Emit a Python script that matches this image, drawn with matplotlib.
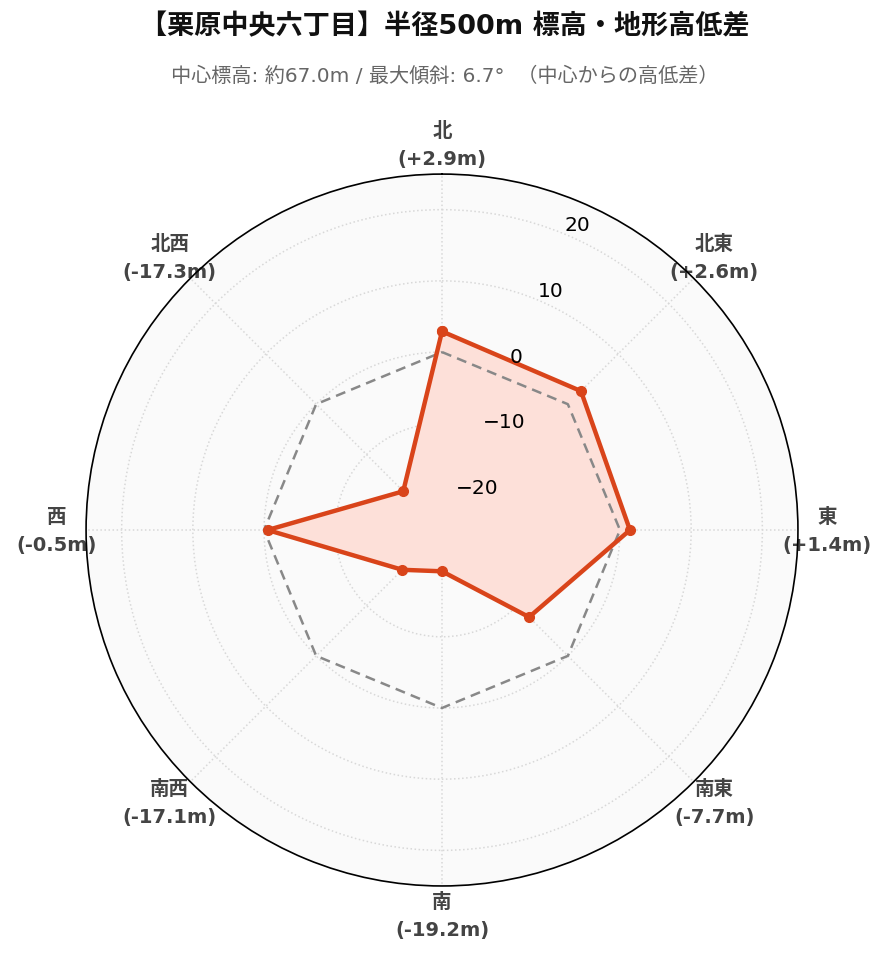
import numpy as np
import matplotlib
matplotlib.use("Agg")
import matplotlib.pyplot as plt

plt.rcParams['font.family'] = ['DejaVu Sans', 'Noto Sans CJK JP']

# data
directions = ['北', '北東', '東', '南東', '南', '南西', '西', '北西']
diffs = [2.9, 2.6, 1.4, -7.7, -19.2, -17.1, -0.5, -17.3]
ref_level = [0, 0, 0, 0, 0, 0, 0, 0]
r_ticks = [-20, -10, 0, 10, 20]
r_min, r_max = -25, 25

title = '【栗原中央六丁目】半径500m 標高・地形高低差'
subtitle = '中心標高: 約67.0m / 最大傾斜: 6.7°  （中心からの高低差）'

line_color = '#d9441a'
fill_color = '#fde0d9'

fig = plt.figure(figsize=(8.89, 9.62), dpi=100)
ax = fig.add_axes([0.0967, 0.078, 0.801, 0.740], projection='polar')
ax.set_theta_zero_location('N')
ax.set_theta_direction(-1)
ax.set_facecolor('#fafafa')

theta = np.deg2rad(np.arange(len(directions)) * 45.0)
th_closed = np.append(theta, theta[0])
vals_closed = np.append(diffs, diffs[0])
ref_closed = np.append(ref_level, ref_level[0])

ax.set_ylim(r_min, r_max)

# reference (0m) line
ax.plot(th_closed, ref_closed, color='#888888', lw=1.8, ls=(0, (4, 2.5)), zorder=3)

# data polygon
ax.fill(th_closed, vals_closed, color=fill_color, zorder=2)
ax.plot(th_closed, vals_closed, color=line_color, lw=3.2, marker='o', ms=7, zorder=4)

# grid
ax.set_yticks(r_ticks)
ax.set_yticklabels([])
ax.set_xticks(theta)
ax.set_xticklabels([])
ax.grid(True, color='#d8d8d8', ls=':', lw=1.1)
ax.spines['polar'].set_color('black')
ax.spines['polar'].set_linewidth(1.2)

# radial tick labels
for t in r_ticks:
    ax.text(np.deg2rad(22.5), t, str(t).replace('-', '\u2212'), ha='left', va='bottom',
            fontsize=14.5, color='black', zorder=5)

# direction labels
for th, name, d in zip(theta, directions, diffs):
    ax.text(th, r_max + 4.1, f'{name}\n({d:+.1f}m)', ha='center', va='center',
            fontsize=14, fontweight='bold', color='#444444', linespacing=1.6,
            clip_on=False, zorder=1)

fig.text(0.5, 1 - 27 / 962, title, ha='center', va='center', fontsize=19.5,
         fontweight='bold', color='#111111')
fig.text(0.5, 1 - 76 / 962, subtitle, ha='center', va='center', fontsize=14.5,
         color='#666666')

fig.savefig('out.png', dpi=100)
